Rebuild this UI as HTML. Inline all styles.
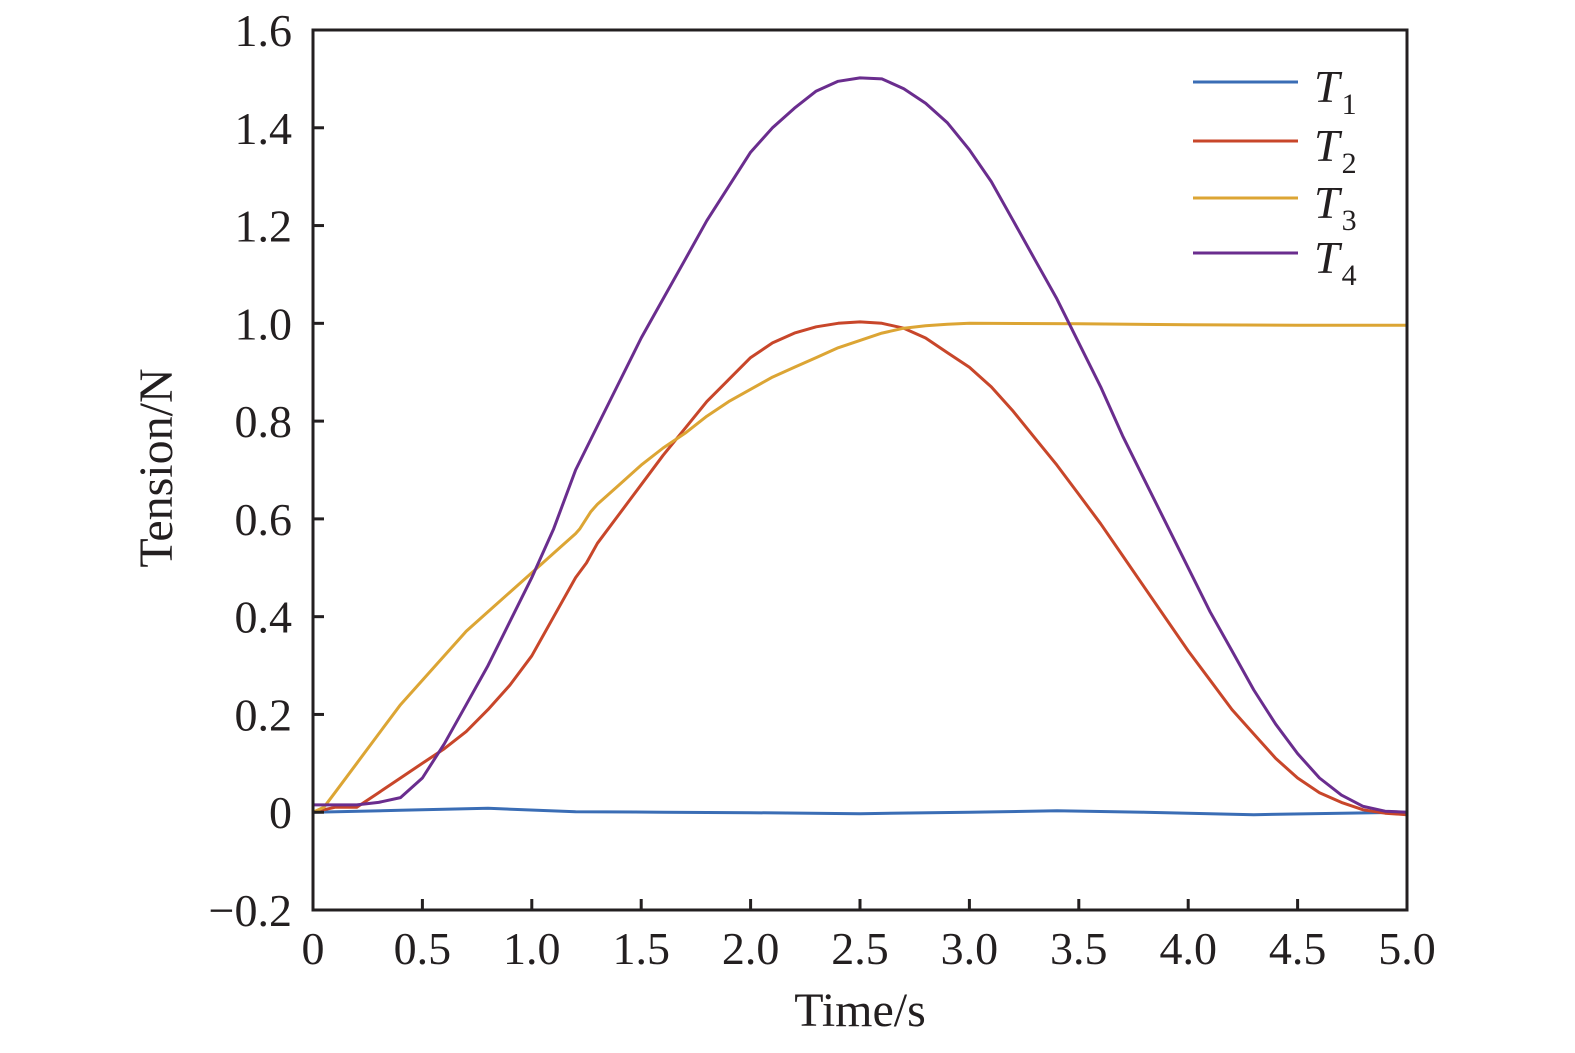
<!DOCTYPE html>
<html><head><meta charset="utf-8"><style>
body{margin:0;background:#fff;}
svg text{font-family:"Liberation Serif",serif;fill:#231f20;}
</style></head><body>
<svg id="chart" width="1575" height="1048" xmlns="http://www.w3.org/2000/svg"></svg>
<script>
const xTicks=[0,0.5,1.0,1.5,2.0,2.5,3.0,3.5,4.0,4.5,5.0];
const xTickLabels=["0","0.5","1.0","1.5","2.0","2.5","3.0","3.5","4.0","4.5","5.0"];
const yTicks=[-0.2,0,0.2,0.4,0.6,0.8,1.0,1.2,1.4,1.6];
const yTickLabels=["\u22120.2","0","0.2","0.4","0.6","0.8","1.0","1.2","1.4","1.6"];
const t1X=[0,0.4,0.8,1.2,1.6,2.0,2.5,3.0,3.4,3.8,4.3,4.7,5.0];
const t1Y=[0,0.004,0.008,0.001,0,-0.001,-0.003,0,0.003,0,-0.005,-0.002,0];
const t2X=[0,0.1,0.2,0.3,0.4,0.5,0.6,0.7,0.8,0.9,1.0,1.1,1.2,1.25,1.3,1.4,1.5,1.6,1.7,1.8,1.9,2.0,2.1,2.2,2.3,2.4,2.5,2.6,2.7,2.8,2.9,3.0,3.1,3.2,3.3,3.4,3.5,3.6,3.7,3.8,3.9,4.0,4.1,4.2,4.3,4.4,4.5,4.6,4.7,4.8,4.9,5.0];
const t2Y=[0,0.01,0.01,0.04,0.07,0.1,0.13,0.165,0.21,0.26,0.32,0.4,0.48,0.51,0.55,0.61,0.67,0.73,0.785,0.84,0.885,0.93,0.96,0.98,0.993,1.0,1.003,1.0,0.99,0.97,0.94,0.91,0.87,0.82,0.765,0.71,0.65,0.59,0.525,0.46,0.395,0.33,0.27,0.21,0.16,0.11,0.07,0.04,0.02,0.005,-0.002,-0.005];
const t3X=[0,0.05,0.1,0.2,0.3,0.4,0.5,0.6,0.7,0.8,0.9,1.0,1.1,1.2,1.22,1.27,1.3,1.4,1.5,1.6,1.7,1.8,1.9,2.0,2.1,2.2,2.3,2.4,2.5,2.6,2.7,2.8,2.9,3.0,3.5,4.0,4.5,5.0];
const t3Y=[0,0.01,0.04,0.1,0.16,0.22,0.27,0.32,0.37,0.41,0.45,0.49,0.53,0.57,0.58,0.615,0.63,0.67,0.71,0.745,0.775,0.81,0.84,0.865,0.89,0.91,0.93,0.95,0.965,0.98,0.99,0.995,0.998,1.0,0.999,0.997,0.996,0.996];
const t4X=[0,0.1,0.2,0.3,0.4,0.5,0.6,0.7,0.8,0.9,1.0,1.1,1.2,1.3,1.4,1.5,1.6,1.7,1.8,1.9,2.0,2.1,2.2,2.3,2.4,2.5,2.6,2.7,2.8,2.9,3.0,3.1,3.2,3.3,3.4,3.5,3.6,3.7,3.8,3.9,4.0,4.1,4.2,4.3,4.4,4.5,4.6,4.7,4.8,4.9,5.0];
const t4Y=[0.015,0.015,0.015,0.02,0.03,0.07,0.14,0.22,0.3,0.39,0.48,0.58,0.7,0.79,0.88,0.97,1.05,1.13,1.21,1.28,1.35,1.4,1.44,1.475,1.495,1.502,1.5,1.48,1.45,1.41,1.355,1.29,1.21,1.13,1.05,0.96,0.87,0.77,0.68,0.59,0.5,0.41,0.33,0.25,0.18,0.12,0.07,0.035,0.012,0.002,0];
const seriesNames=["T1","T2","T3","T4"];
const seriesColors=["#3a6db5","#c8462a","#dca534","#6a2d8e"];

const X0=313,X1=1407,Y0=910,Y1=30;
const xs=v=>X0+(v-0)/(5-0)*(X1-X0);
const ys=v=>Y0-(v-(-0.2))/(1.6-(-0.2))*(Y0-Y1);
const svg=document.getElementById('chart');
const NS="http://www.w3.org/2000/svg";
function mk(tag,attrs){const e=document.createElementNS(NS,tag);for(const k in attrs)e.setAttribute(k,attrs[k]);svg.appendChild(e);return e;}

// series
const sx=[t1X,t2X,t3X,t4X],sy=[t1Y,t2Y,t3Y,t4Y];
for(let s=0;s<4;s++){
  const d=sx[s].map((x,i)=>(i?'L':'M')+xs(x).toFixed(1)+' '+ys(sy[s][i]).toFixed(1)).join(' ');
  const p=mk('path',{d:d,fill:'none',stroke:seriesColors[s],'stroke-width':3,'stroke-linejoin':'round'});
  
  
}
// frame
const fr=mk('rect',{x:X0,y:Y1,width:X1-X0,height:Y0-Y1,fill:'none',stroke:'#231f20','stroke-width':3});


// x ticks
xTicks.forEach((v,i)=>{
  if(i>0&&i<xTicks.length-1){const t=mk('line',{x1:xs(v),x2:xs(v),y1:Y0,y2:Y0-11,stroke:'#231f20','stroke-width':3});
  
  }
  const l=mk('text',{x:xs(v),y:964,'font-size':46,'text-anchor':'middle'});l.textContent=xTickLabels[i];
  
  
});
yTicks.forEach((v,i)=>{
  if(i>0&&i<yTicks.length-1){const t=mk('line',{x1:X0,x2:X0+11,y1:ys(v),y2:ys(v),stroke:'#231f20','stroke-width':3});
  
  }
  const l=mk('text',{x:292,y:ys(v)+16,'font-size':46,'text-anchor':'end'});l.textContent=yTickLabels[i];
  
  
});
const xt=mk('text',{x:860,y:1026,'font-size':48,'text-anchor':'middle'});xt.textContent='Time/s';


const yt=mk('text',{x:0,y:0,'font-size':48,'text-anchor':'middle',transform:'translate(172,468) rotate(-90)'});yt.textContent='Tension/N';


// legend
const legY=[82,141,198,253];
for(let s=0;s<4;s++){
  const ln=mk('line',{x1:1193,x2:1298,y1:legY[s],y2:legY[s],stroke:seriesColors[s],'stroke-width':3});
  
  
  const tx=mk('text',{x:1314,y:legY[s]+20,'font-size':46,'font-style':'italic'});
  tx.textContent='T';
  
  
  const sub=document.createElementNS(NS,'tspan');sub.setAttribute('font-style','normal');sub.setAttribute('font-size','30');sub.setAttribute('dy','12');sub.setAttribute('dx','2');sub.textContent=String(s+1);tx.appendChild(sub);
}
</script>
</body></html>
